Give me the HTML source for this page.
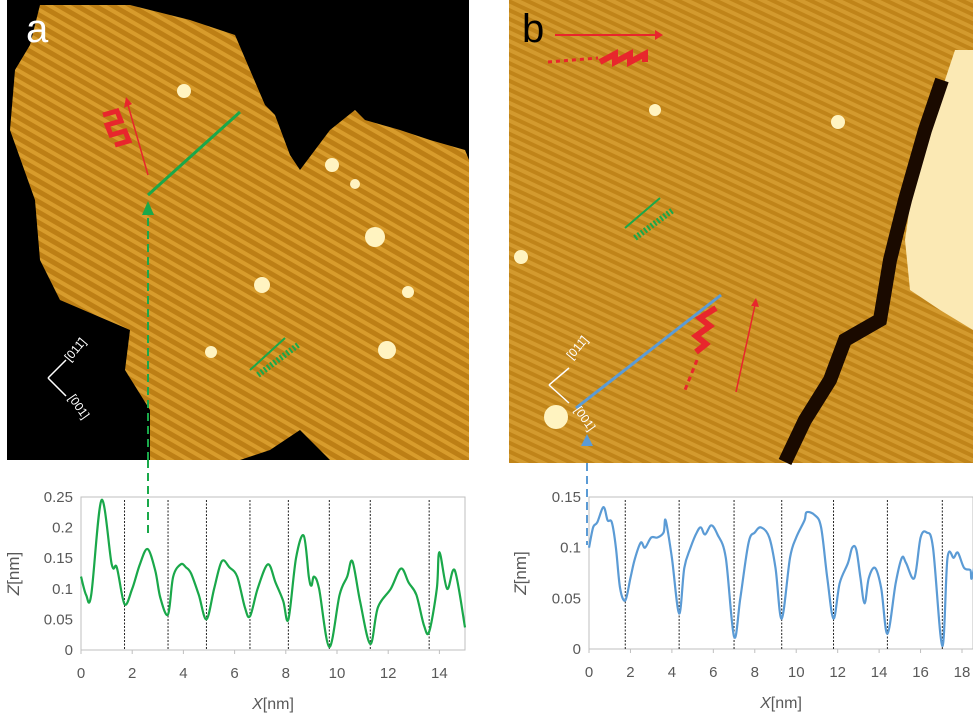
<!DOCTYPE html>
<html><head><meta charset="utf-8">
<style>
body{margin:0;background:#fff;width:973px;height:716px;overflow:hidden;font-family:"Liberation Sans",sans-serif;}
svg{display:block}
</style></head>
<body>
<svg id="root" width="973" height="716" viewBox="0 0 973 716">
<defs>
<pattern id="stripes" width="9" height="9" patternUnits="userSpaceOnUse" patternTransform="rotate(-60)">
<rect width="9" height="9" fill="#bd7f15"/><rect width="4" height="9" fill="#d89c2c"/>
</pattern>
<pattern id="stripesB" width="8" height="8" patternUnits="userSpaceOnUse" patternTransform="rotate(-65)">
<rect width="8" height="8" fill="#c08419"/><rect width="4" height="8" fill="#d39a2e"/>
</pattern>
</defs>
<g>
<rect x="7" y="0" width="462" height="460" fill="#000"/>
<polygon fill="url(#stripes)" points="40,5 130,5 190,20 235,35 250,70 265,105 275,115 290,155 300,170 330,130 355,110 365,120 400,130 430,140 465,150 469,160 469,460 330,460 300,430 270,450 240,460 150,460 150,410 125,370 130,330 60,300 40,260 35,200 10,130 15,70 30,45"/>
<circle cx="184" cy="91" r="7" fill="#fff3c0"/><circle cx="332" cy="165" r="7" fill="#fff3c0"/>
<circle cx="375" cy="237" r="10" fill="#fff3c0"/><circle cx="262" cy="285" r="8" fill="#fff3c0"/>
<circle cx="387" cy="350" r="9" fill="#fff3c0"/><circle cx="408" cy="292" r="6" fill="#fff3c0"/>
<circle cx="211" cy="352" r="6" fill="#fff3c0"/><circle cx="355" cy="184" r="5" fill="#fff3c0"/>
<text x="26" y="42" font-size="40" fill="#fff">a</text>
<line x1="148" y1="195" x2="240" y2="112" stroke="#1aa84a" stroke-width="3"/>
<line x1="148" y1="460" x2="148" y2="210" stroke="#1aa84a" stroke-width="2" stroke-dasharray="8,5"/>
<polygon points="142,215 154,215 148,201" fill="#1aa84a"/>
<line x1="148" y1="175" x2="128" y2="105" stroke="#e8262c" stroke-width="1.5"/>
<polygon points="124,108 132,104 126,97" fill="#e8262c"/>
<path d="M103 115 l14 -4 l4 10 l-14 4 l4 10 l14 -4 l4 10 l-14 4" stroke="#e8262c" stroke-width="5" fill="none"/>
<line x1="250" y1="370" x2="285" y2="338" stroke="#1aa84a" stroke-width="2"/>
<path d="M258 375 l40 -30" stroke="#1aa84a" stroke-width="6" stroke-dasharray="2,2" fill="none"/>
<g stroke="#fff" stroke-width="1.5" fill="none"><path d="M48 378 l18 -18 M48 378 l18 18"/></g>
<text x="70" y="362" font-size="12" fill="#fff" transform="rotate(-50 70 362)">[011̄]</text>
<text x="68" y="398" font-size="12" fill="#fff" transform="rotate(55 68 398)">[001]</text>
</g>
<g>
<rect x="509" y="0" width="464" height="463" fill="url(#stripesB)"/>
<polygon fill="#fbe9b4" points="955,50 973,50 973,330 940,310 910,290 905,240 915,170 935,110"/>
<polyline fill="none" stroke="#1a0a00" stroke-width="14" points="942,80 925,130 905,200 890,260 880,320 845,340 830,380 805,420 785,462"/>
<circle cx="838" cy="122" r="7" fill="#fff3c0"/><circle cx="521" cy="257" r="7" fill="#fff3c0"/>
<circle cx="556" cy="417" r="12" fill="#fff3c0"/><circle cx="655" cy="110" r="6" fill="#fff3c0"/>
<text x="522" y="42" font-size="40" fill="#000">b</text>
<line x1="555" y1="35" x2="655" y2="35" stroke="#e8262c" stroke-width="2"/>
<polygon points="655,30 663,35 655,40" fill="#e8262c"/>
<path d="M600 62 l15 -8 l0 8 l15 -8 l0 8 l15 -8 l0 8" stroke="#e8262c" stroke-width="6" fill="none"/>
<line x1="548" y1="62" x2="598" y2="58" stroke="#e8262c" stroke-width="3" stroke-dasharray="4,4"/>
<line x1="625" y1="228" x2="660" y2="198" stroke="#1aa84a" stroke-width="2"/>
<path d="M635 238 l38 -28" stroke="#1aa84a" stroke-width="6" stroke-dasharray="2,2" fill="none"/>
<line x1="576" y1="408" x2="721" y2="295" stroke="#5b9bd5" stroke-width="3"/>
<line x1="587" y1="463" x2="587" y2="545" stroke="#5b9bd5" stroke-width="2" stroke-dasharray="8,5"/>
<path d="M716 308 l-16 10 l10 8 l-14 10 l10 8 l-10 8" stroke="#e8262c" stroke-width="6" fill="none"/>
<line x1="697" y1="360" x2="685" y2="390" stroke="#e8262c" stroke-width="3" stroke-dasharray="5,4"/>
<line x1="736" y1="392" x2="755" y2="305" stroke="#e8262c" stroke-width="1.5"/>
<polygon points="751,306 759,307 756,298" fill="#e8262c"/>
<g stroke="#fff" stroke-width="1.5" fill="none"><path d="M549 385 l20 -17 M549 385 l20 18"/></g>
<text x="572" y="360" font-size="12" fill="#fff" transform="rotate(-50 572 360)">[011̄]</text>
<text x="574" y="410" font-size="12" fill="#fff" transform="rotate(55 574 410)">[001]</text>
</g>
<line x1="148" y1="460" x2="148" y2="535" stroke="#1aa84a" stroke-width="2" stroke-dasharray="8,5"/>
<polygon points="581,446 593,446 587,434" fill="#5b9bd5"/>
<g id="chartA"></g>
<g id="chartB"></g>
</svg>
<script>
const aX=[0,0.2,0.4,0.8,1.2,1.4,1.7,2.0,2.3,2.6,2.9,3.1,3.4,3.6,3.9,4.1,4.3,4.6,4.9,5.2,5.5,5.8,6.1,6.4,6.6,6.9,7.3,7.6,7.9,8.1,8.4,8.7,8.9,9.0,9.1,9.3,9.7,10.1,10.4,10.6,10.9,11.3,11.6,12.1,12.5,12.8,13.1,13.4,13.6,13.9,14.0,14.3,14.6,15];
const aZ=[0.12,0.09,0.09,0.245,0.14,0.135,0.075,0.1,0.14,0.165,0.13,0.085,0.058,0.12,0.14,0.135,0.125,0.09,0.05,0.1,0.145,0.135,0.12,0.07,0.055,0.1,0.14,0.11,0.08,0.05,0.15,0.187,0.12,0.105,0.12,0.1,0.005,0.09,0.12,0.145,0.08,0.01,0.07,0.1,0.133,0.11,0.09,0.04,0.03,0.1,0.16,0.1,0.13,0.037];
const aMinima=[1.7,3.4,4.9,6.6,8.1,9.7,11.3,13.6];
const aXTicks=[0,2,4,6,8,10,12,14];
const aYTicks=[0,0.05,0.1,0.15,0.2,0.25];
const aYLabels=["0","0.05","0.1","0.15","0.2","0.25"];
const bX=[0,0.2,0.4,0.7,0.9,1.1,1.3,1.5,1.75,2.0,2.2,2.5,2.7,3.0,3.3,3.6,3.7,4.0,4.35,4.6,4.9,5.2,5.4,5.6,5.9,6.2,6.6,7.0,7.3,7.7,8.0,8.3,8.7,9.0,9.3,9.7,10.0,10.4,10.5,10.9,11.2,11.5,11.8,12.1,12.5,12.7,12.9,13.1,13.3,13.5,13.8,14.1,14.4,14.8,15.1,15.3,15.7,16.0,16.3,16.6,17.05,17.3,17.6,17.8,18.1,18.4,18.5,19];
const bZ=[0.1,0.12,0.125,0.14,0.127,0.125,0.1,0.06,0.048,0.07,0.088,0.105,0.1,0.11,0.11,0.115,0.127,0.09,0.035,0.08,0.1,0.115,0.12,0.113,0.122,0.113,0.09,0.012,0.05,0.105,0.115,0.12,0.11,0.08,0.03,0.09,0.11,0.127,0.135,0.132,0.12,0.07,0.03,0.065,0.085,0.1,0.098,0.07,0.045,0.07,0.08,0.06,0.015,0.065,0.09,0.085,0.07,0.11,0.115,0.1,0.003,0.09,0.09,0.095,0.08,0.078,0.072,0.127];
const bMinima=[1.75,4.35,7.0,9.3,11.8,14.4,17.05];
const bXTicks=[0,2,4,6,8,10,12,14,16,18];
const bYTicks=[0,0.05,0.1,0.15];
const bYLabels=["0","0.05","0.1","0.15"];
const NS="http://www.w3.org/2000/svg";
function mk(p,t,a){const e=document.createElementNS(NS,t);for(const k in a)e.setAttribute(k,a[k]);p.appendChild(e);return e;}
function smooth(P){let d='M'+P[0][0].toFixed(1)+','+P[0][1].toFixed(1);
 for(let i=0;i<P.length-1;i++){const p0=P[Math.max(0,i-1)],p1=P[i],p2=P[i+1],p3=P[Math.min(P.length-1,i+2)];
  const c1=[p1[0]+(p2[0]-p0[0])/6,p1[1]+(p2[1]-p0[1])/6],c2=[p2[0]-(p3[0]-p1[0])/6,p2[1]-(p3[1]-p1[1])/6];
  d+=` C${c1[0].toFixed(1)},${c1[1].toFixed(1)} ${c2[0].toFixed(1)},${c2[1].toFixed(1)} ${p2[0].toFixed(1)},${p2[1].toFixed(1)}`;}
 return d;}
function draw(g,cfg){
 const sx=v=>cfg.x0+(v-cfg.xmin)*(cfg.x1-cfg.x0)/(cfg.xmax-cfg.xmin);
 const sy=v=>cfg.y0-(v)*(cfg.y0-cfg.y1)/cfg.ymax;
 const frame=mk(g,'rect',{x:cfg.x0,y:cfg.y1,width:cfg.right-cfg.x0,height:cfg.y0-cfg.y1,fill:'none',stroke:'#bfbfbf','stroke-width':1});
 
 
 cfg.yt.forEach((v,i)=>{
  const t=mk(g,'text',{x:cfg.x0-8,y:sy(v)+5,'font-size':15,fill:'#595959','text-anchor':'end'});t.textContent=cfg.yl[i];
  
  
 });
 cfg.xt.forEach(v=>{
  const t=mk(g,'text',{x:sx(v),y:cfg.y0+28,'font-size':15,fill:'#595959','text-anchor':'middle'});t.textContent=v;
  
  
  mk(g,'line',{x1:sx(v),x2:sx(v),y1:cfg.y0,y2:cfg.y0+4,stroke:'#bfbfbf'});
 });
 cfg.min.forEach(v=>{
  const l=mk(g,'line',{x1:sx(v),x2:sx(v),y1:cfg.y1+3,y2:cfg.y0,stroke:'#222','stroke-width':1,'stroke-dasharray':'2,1.5'});
  
  
 });
 const P=cfg.xs.map((x,i)=>[sx(x),sy(cfg.zs[i])]);
 const pl=mk(g,'path',{d:smooth(P),fill:'none',stroke:cfg.color,'stroke-width':2.2,'stroke-linejoin':'round'});
 
 
 const xt=mk(g,'text',{x:(cfg.x0+cfg.right)/2,y:cfg.y0+59,'font-size':16,fill:'#595959','text-anchor':'middle'});
 xt.innerHTML='<tspan font-style="italic">X</tspan>[nm]';
 
 
 const cy=(cfg.y0+cfg.y1)/2;
 const yt=mk(g,'text',{x:cfg.ytx,y:cy,'font-size':17,fill:'#595959','text-anchor':'middle',transform:`rotate(-90 ${cfg.ytx} ${cy})`});
 yt.innerHTML='<tspan font-style="italic">Z</tspan>[nm]';
 
 
}
draw(document.getElementById('chartA'),{x0:81,x1:465,right:465,xmin:0,xmax:15,y0:650,y1:497,ymax:0.25,xs:aX,zs:aZ,min:aMinima,xt:aXTicks,yt:aYTicks,yl:aYLabels,color:'#1aa84a',ytx:19});
draw(document.getElementById('chartB'),{x0:589,x1:962,right:973,xmin:0,xmax:18,y0:649,y1:497,ymax:0.15,xs:bX,zs:bZ,min:bMinima,xt:bXTicks,yt:bYTicks,yl:bYLabels,color:'#5b9bd5',ytx:526});
</script>
</body></html>
